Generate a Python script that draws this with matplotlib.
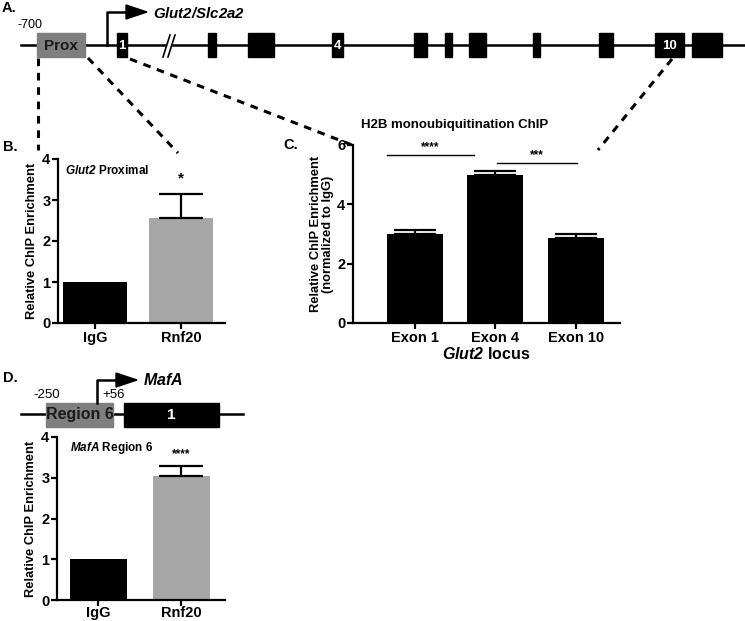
import matplotlib
matplotlib.use("Agg")
import matplotlib.pyplot as plt
import numpy as np

plt.rcParams['font.family'] = ['Liberation Sans', 'DejaVu Sans']
plt.rcParams['font.weight'] = 'bold'
plt.rcParams['axes.labelweight'] = 'bold'
plt.rcParams['mathtext.fontset'] = 'custom'
plt.rcParams['mathtext.rm'] = 'Liberation Sans:bold'
plt.rcParams['mathtext.it'] = 'Liberation Sans:italic:bold'
plt.rcParams['mathtext.bf'] = 'Liberation Sans:bold'
plt.rcParams['mathtext.bfit'] = 'Liberation Sans:italic:bold'

# --- data ---
b_groups = ['IgG', 'Rnf20']
b_values = [1.0, 2.55]
b_errors = [0.0, 0.60]

c_groups = ['Exon 1', 'Exon 4', 'Exon 10']
c_values = [3.0, 5.0, 2.85]
c_errors = [0.13, 0.12, 0.15]

d_groups = ['IgG', 'Rnf20']
d_values = [1.0, 3.05]
d_errors = [0.0, 0.23]

bar_colors = ['black', '#a6a6a6']

W, H = 745, 621
fig = plt.figure(figsize=(W / 100, H / 100), dpi=100)


def px_axes(x0, y0, x1, y1):
    # axes from pixel box (top-left origin)
    return fig.add_axes([x0 / W, 1 - y1 / H, (x1 - x0) / W, (y1 - y0) / H])


def style_ax(ax):
    for s in ['top', 'right']:
        ax.spines[s].set_visible(False)
    for s in ['left', 'bottom']:
        ax.spines[s].set_linewidth(1.6)
    ax.tick_params(width=1.6, length=4, labelsize=10.5, pad=1.5)


def bar_panel(ax, groups, values, errors, colors, width, cap):
    x = np.arange(len(groups))
    ax.bar(x, values, width=width, color=colors, zorder=2)
    for xi, v, e in zip(x, values, errors):
        if e > 0:  # one-sided (upper) SEM bars only where there is an error
            ax.errorbar(xi, v, yerr=[[0], [e]], fmt='none', ecolor='black',
                        elinewidth=1.6, capsize=cap, capthick=1.6, zorder=3)
    ax.set_xticks(x)
    ax.set_xticklabels(groups)


# ---------- Panel B ----------
axB = px_axes(58, 159, 225, 323)
bar_panel(axB, b_groups, b_values, b_errors, bar_colors, 0.74, 16)
axB.set_ylim(0, 4)
axB.set_xlim(-0.43, 1.51)
axB.set_yticks([0, 1, 2, 3, 4])
axB.set_ylabel('Relative ChIP Enrichment', fontsize=9.3, labelpad=3)
style_ax(axB)
axB.text(1, b_values[1] + b_errors[1] + 0.2, '*', ha='center', va='bottom', fontsize=11)
axB.text(0.04, 0.93, r'$\bfit{Glut2}$ Proximal', transform=axB.transAxes, fontsize=8.5,
         ha='left', va='center')

# ---------- Panel C ----------
axC = px_axes(353, 145, 620, 323)
bar_panel(axC, c_groups, c_values, c_errors, ['black'] * 3, 0.7, 15)
axC.set_ylim(0, 6)
axC.set_xlim(-0.77, 2.55)
axC.set_yticks([0, 2, 4, 6])
axC.set_ylabel('Relative ChIP Enrichment\n(normalized to IgG)', fontsize=9.3,
               labelpad=2, linespacing=1.0)
axC.set_xlabel(r'$\bfit{Glut2}$ locus', fontsize=11.5, labelpad=1)
style_ax(axC)
axC.plot([-0.35, 0.73], [5.65, 5.65], color='black', lw=1.0)
axC.text(0.19, 5.72, '****', ha='center', va='bottom', fontsize=8.5)
axC.plot([1.02, 2.02], [5.38, 5.38], color='black', lw=1.0)
axC.text(1.52, 5.45, '***', ha='center', va='bottom', fontsize=8.5)
fig.text(455 / W, 1 - 125 / H, 'H2B monoubiquitination ChIP', ha='center', va='center',
         fontsize=9.5)

# ---------- Panel D ----------
axD = px_axes(57, 437, 225, 600)
bar_panel(axD, d_groups, d_values, d_errors, bar_colors, 0.69, 16)
axD.set_ylim(0, 4)
axD.set_xlim(-0.5, 1.53)
axD.set_yticks([0, 1, 2, 3, 4])
axD.set_ylabel('Relative ChIP Enrichment', fontsize=9.3, labelpad=3)
style_ax(axD)
axD.tick_params(axis='x', pad=0.5)
axD.text(1, d_values[1] + d_errors[1] + 0.15, '****', ha='center', va='bottom', fontsize=8.5)
axD.text(0.08, 0.93, r'$\bfit{MafA}$ Region 6', transform=axD.transAxes, fontsize=8.5,
         ha='left', va='center')

# ---------- diagrams (pixel overlay) ----------
ov = fig.add_axes([0, 0, 1, 1], zorder=5)
ov.set_xlim(0, W)
ov.set_ylim(H, 0)
ov.axis('off')
ov.patch.set_alpha(0)

# gene A
gy = 45
ov.plot([21, 745], [gy, gy], color='black', lw=1.8, zorder=1)
ov.add_patch(plt.Rectangle((37, 33), 48, 24, color='#7f7f7f', zorder=2))
ov.text(61, gy + 1, 'Prox', ha='center', va='center', fontsize=11, color='#1a1a1a', zorder=3)
exons = [(117, 127, '1'), (208, 216, ''), (248, 274, ''), (332, 343, '4'), (414, 427, ''),
         (445, 452, ''), (469, 486, ''), (533, 540, ''), (599, 613, ''), (655, 684, '10'),
         (692, 722, '')]
for x0, x1, lab in exons:
    ov.add_patch(plt.Rectangle((x0, 33), x1 - x0, 24, color='black', zorder=2))
    if lab:
        ov.text((x0 + x1) / 2, gy + 1, lab, ha='center', va='center', fontsize=9.5,
                color='white', zorder=3)
# break marks
ov.add_patch(plt.Polygon([[164, 57], [169, 57], [174, 35], [169, 35]], color='white', zorder=2))
ov.plot([163, 170], [57, 35], color='black', lw=1.2, zorder=3)
ov.plot([168, 175], [57, 35], color='black', lw=1.2, zorder=3)
# TSS arrow
ov.plot([107, 107, 128], [gy, 12, 12], color='black', lw=1.8, zorder=3)
ov.add_patch(plt.Polygon([[126, 5], [147, 12], [126, 19]], color='black', zorder=3))
ov.text(153, 13, r'$\bfit{Glut2/Slc2a2}$', ha='left', va='center', fontsize=10.8)
ov.text(17, 25, '-700', ha='left', va='center', fontsize=9, fontweight='normal')

# dashed connectors
dash = dict(color='black', lw=2.2, ls=(0, (2.5, 2.2)), zorder=1)
ov.plot([38, 38], [58, 150], **dash)
ov.plot([88, 178], [58, 153], **dash)
ov.plot([130, 352], [59, 145], **dash)
ov.plot([672, 598], [59, 150], **dash)

# gene D
dy = 414
ov.plot([21, 243], [dy, dy], color='black', lw=1.8, zorder=1)
ov.add_patch(plt.Rectangle((46, 403), 67, 24, color='#7f7f7f', zorder=2))
ov.text(79.5, dy + 1, 'Region 6', ha='center', va='center', fontsize=11.5,
        color='#1a1a1a', zorder=3)
ov.add_patch(plt.Rectangle((124, 403), 95, 24, color='black', zorder=2))
ov.text(171, dy + 1, '1', ha='center', va='center', fontsize=11, color='white', zorder=3)
ov.plot([97, 97, 118], [403, 380, 380], color='black', lw=1.8, zorder=3)
ov.add_patch(plt.Polygon([[116, 373], [137, 380], [116, 387]], color='black', zorder=3))
ov.text(143, 380, r'$\bfit{MafA}$', ha='left', va='center', fontsize=11.5)
ov.text(33, 395, '-250', ha='left', va='center', fontsize=9.5, fontweight='normal')
ov.text(102, 395, '+56', ha='left', va='center', fontsize=9.5, fontweight='normal')

# panel letters
for lab, x, y in [('A.', 2, 8), ('B.', 3, 147), ('C.', 283, 145), ('D.', 3, 378)]:
    ov.text(x, y, lab, ha='left', va='center', fontsize=10.5)

fig.savefig('out.png', dpi=100)
